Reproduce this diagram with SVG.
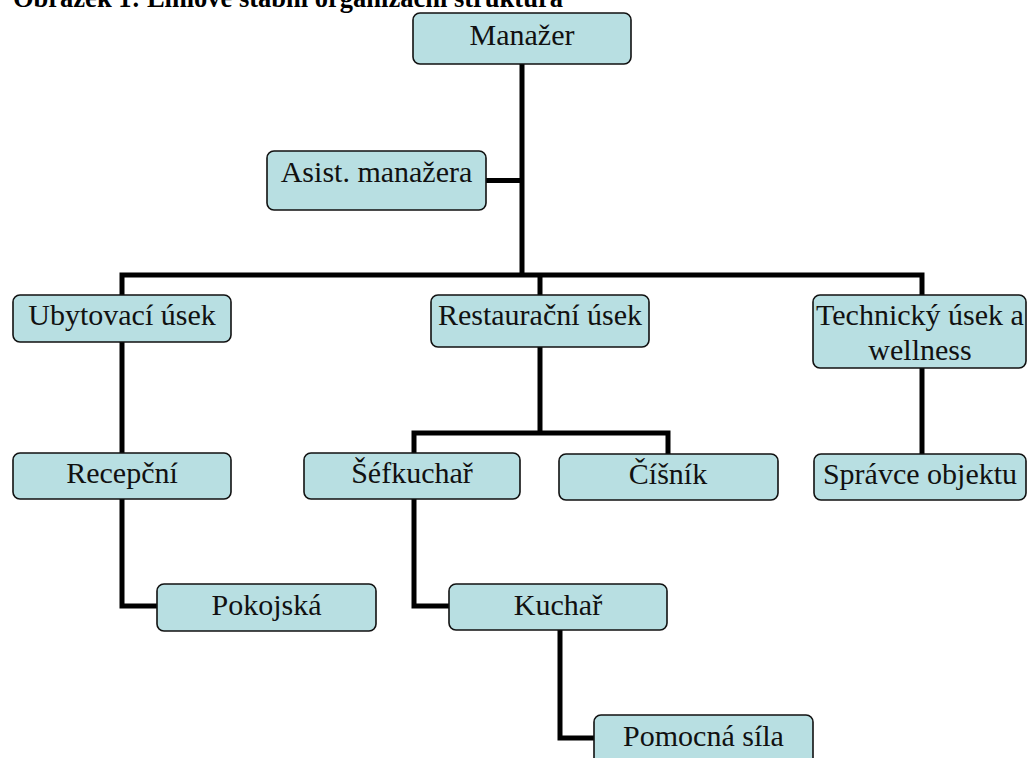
<svg xmlns="http://www.w3.org/2000/svg" width="1027" height="758" viewBox="0 0 1027 758">
<style>
.box{fill:#B8DFE2;stroke:#111;stroke-width:1.6}
.lbl{font-family:"Liberation Serif","Times New Roman",serif;font-size:30px;fill:#111;text-anchor:middle}
.title{font-family:"Liberation Serif","Times New Roman",serif;font-size:26.5px;font-weight:bold;fill:#000}
.con{fill:none;stroke:#000;stroke-width:5;stroke-linejoin:miter;stroke-linecap:butt}
</style>
<rect width="1027" height="758" fill="#fff"/>
<text class="title" x="13" y="7">Obrázek 1: Liniové štábní organizační struktura</text>
<g id="connectors" class="con">
<path d="M522 64 V275"/>
<path d="M486 180.5 H522"/>
<path d="M122 295 V275 H922 V295"/>
<path d="M540 275 V295"/>
<path d="M122 342 V453"/>
<path d="M122 499 V606 H157"/>
<path d="M540 347 V433"/>
<path d="M414 453 V433 H668 V454"/>
<path d="M414 499 V606 H449"/>
<path d="M560 630 V738 H594"/>
<path d="M922 368 V454"/>
</g>
<g id="manazer"><rect class="box" x="413" y="13" width="218" height="51" rx="7"/><text class="lbl" x="522" y="45">Manažer</text></g>
<g id="asistent"><rect class="box" x="267" y="151" width="219" height="59" rx="7"/><text class="lbl" x="376.5" y="182">Asist. manažera</text></g>
<g id="ubytovaci"><rect class="box" x="13" y="295" width="218" height="47" rx="7"/><text class="lbl" x="122" y="325">Ubytovací úsek</text></g>
<g id="restauracni"><rect class="box" x="431" y="295" width="218" height="52" rx="7"/><text class="lbl" x="540" y="325">Restaurační úsek</text></g>
<g id="technicky"><rect class="box" x="813" y="295" width="213" height="73" rx="7"/><text class="lbl" x="920" y="325">Technický úsek a</text><text class="lbl" x="920" y="360">wellness</text></g>
<g id="recepcni"><rect class="box" x="13" y="453" width="218" height="46" rx="7"/><text class="lbl" x="122" y="483">Recepční</text></g>
<g id="sefkuchar"><rect class="box" x="304" y="453" width="216" height="46" rx="7"/><text class="lbl" x="412" y="483">Šéfkuchař</text></g>
<g id="cisnik"><rect class="box" x="559" y="454" width="219" height="46" rx="7"/><text class="lbl" x="668" y="484">Číšník</text></g>
<g id="spravce"><rect class="box" x="814" y="454" width="212" height="46" rx="7"/><text class="lbl" x="920" y="484">Správce objektu</text></g>
<g id="pokojska"><rect class="box" x="157" y="584" width="219" height="47" rx="7"/><text class="lbl" x="266.5" y="615">Pokojská</text></g>
<g id="kuchar"><rect class="box" x="449" y="584" width="218" height="46" rx="7"/><text class="lbl" x="558" y="615">Kuchař</text></g>
<g id="pomocna"><rect class="box" x="594" y="715" width="219" height="52" rx="7"/><text class="lbl" x="703.5" y="746">Pomocná síla</text></g>
</svg>
